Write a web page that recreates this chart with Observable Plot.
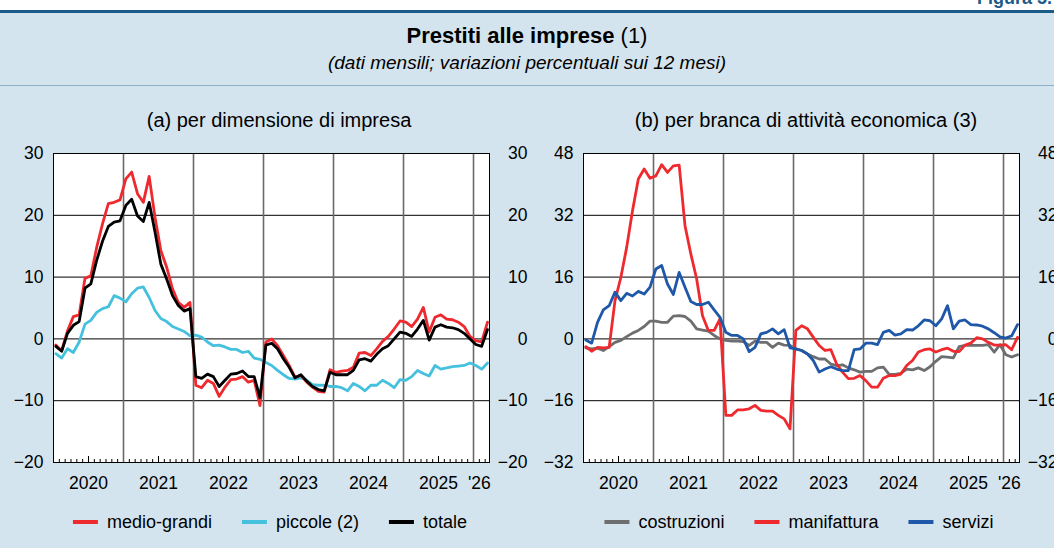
<!DOCTYPE html>
<html><head><meta charset="utf-8">
<script src="https://cdn.jsdelivr.net/npm/d3@7"></script>
<script src="https://cdn.jsdelivr.net/npm/@observablehq/plot@0.6"></script>
<style>
html,body{margin:0;padding:0;background:#fff;overflow:hidden;}
body{width:1054px;height:548px;position:relative;font-family:"Liberation Sans",Arial,Helvetica,sans-serif;color:#000;}
#fignum{position:absolute;right:2px;top:-11px;font-size:18px;line-height:18px;font-weight:bold;color:#1c5a87;}
#bg{position:absolute;left:0;top:10px;width:1054px;height:538px;background:#d4e4ee;border-top:3px solid #1c5a87;box-sizing:border-box;}
#title{position:absolute;left:0;width:1054px;top:23px;text-align:center;font-size:22px;line-height:26px;}
#subtitle{position:absolute;left:0;width:1054px;top:51px;text-align:center;font-size:19px;line-height:24px;font-style:italic;}
#sep{position:absolute;left:0;top:85px;width:1054px;height:1px;background:#8fb1c7;}
.ptitle{position:absolute;top:108px;font-size:20px;line-height:24px;text-align:center;width:600px;}
.plot{position:absolute;top:130px;width:549px;height:370px;}
.plot svg{max-width:none !important;}
.legend{position:absolute;top:511px;display:flex;gap:30px;font-size:18px;line-height:22px;transform:translateX(-50%);white-space:nowrap;}
.legend .it{display:flex;align-items:center;gap:9px;}
.legend .sw{width:25px;height:4px;}
</style></head><body>
<div id="fignum">Figura 5.</div>
<div id="bg"></div>
<div id="title"><b>Prestiti alle imprese</b> (1)</div>
<div id="subtitle">(dati mensili; variazioni percentuali sui 12 mesi)</div>
<div id="sep"></div>
<div class="ptitle" id="ta" style="left:-21px">(a) per dimensione di impresa</div>
<div class="ptitle" id="tb" style="left:506px">(b) per branca di attività economica (3)</div>
<div class="plot" id="pa" style="left:0px"></div>
<div class="plot" id="pb" style="left:530px"></div>
<div class="legend" id="la" style="left:270px"></div>
<div class="legend" id="lb" style="left:799px"></div>
<script>
// monthly observations, Jan 2020 .. Mar 2026
const startYear = 2020;
const yearLabels = ["2020","2021","2022","2023","2024","2025","'26"];

const medioGrandi = [-1.0,-1.9,1.3,3.6,3.9,9.8,10.2,14.8,18.6,21.9,
 22.1,22.5,25.9,27.0,23.5,22.1,26.3,19.7,14.3,11.6,
 8.1,5.9,5.1,5.9,-7.5,-7.9,-6.7,-7.2,-9.3,-7.8,
 -6.6,-6.5,-6.1,-7.0,-6.7,-10.8,-0.5,0.0,-1.1,-2.7,
 -4.3,-6.2,-5.9,-7.0,-7.8,-8.5,-8.6,-5.0,-5.4,-5.2,
 -5.1,-4.6,-2.3,-2.2,-2.7,-1.6,-0.4,0.4,1.6,2.9,
 2.7,2.0,3.2,5.1,1.1,3.5,3.9,3.2,3.1,2.7,
 2.0,0.4,-0.3,-0.5,2.7];
const piccole = [-2.4,-3.1,-1.6,-2.2,-0.5,2.4,3.0,4.3,4.9,5.2,
 7.0,6.6,6.0,7.3,8.2,8.4,6.7,4.6,3.3,2.8,
 2.0,1.6,1.2,0.5,0.6,0.3,-0.5,-1.1,-1.0,-1.3,
 -1.7,-1.7,-2.2,-2.0,-3.1,-3.3,-3.8,-4.3,-5.1,-5.8,
 -6.4,-6.5,-6.3,-6.7,-7.4,-7.5,-7.5,-7.7,-7.7,-7.9,
 -8.4,-7.2,-7.7,-8.4,-7.5,-7.5,-6.7,-7.2,-7.9,-6.6,
 -6.7,-6.1,-5.1,-5.6,-6.0,-4.3,-4.9,-4.7,-4.5,-4.4,
 -4.3,-3.9,-4.3,-4.9,-3.9];
const totale = [-1.2,-2.0,0.9,2.2,2.8,8.2,8.9,12.7,15.8,18.2,
 18.9,19.1,21.6,22.6,19.9,19.0,22.1,17.3,12.1,9.7,
 7.0,5.4,4.5,4.9,-6.1,-6.4,-5.7,-6.1,-7.7,-6.7,
 -5.7,-5.6,-5.2,-6.1,-6.1,-9.5,-1.0,-0.7,-1.6,-3.2,
 -4.6,-6.3,-5.8,-6.8,-7.7,-8.2,-8.4,-5.4,-5.8,-5.8,
 -5.8,-5.1,-3.4,-3.2,-3.6,-2.5,-1.6,-1.1,0.0,1.1,
 0.9,0.4,1.6,3.0,-0.2,1.9,2.3,1.9,1.8,1.5,
 0.9,0.0,-0.9,-1.2,1.5];

const costruzioni = [-2.3,-2.6,-2.4,-3.0,-2.0,-0.9,-0.4,0.6,1.5,2.2,
 3.2,4.6,4.6,4.3,4.3,5.9,6.0,5.8,4.6,2.6,
 2.3,2.0,0.9,0.0,-0.4,-0.6,-0.6,-0.7,-1.7,-0.6,
 -0.9,-0.9,-2.2,-1.1,-1.6,-1.7,-2.6,-3.0,-3.9,-4.6,
 -5.2,-5.2,-6.5,-6.9,-6.7,-7.5,-8.0,-8.6,-8.4,-8.4,
 -7.5,-7.3,-9.2,-9.2,-8.9,-7.8,-8.0,-7.5,-8.2,-7.2,
 -5.8,-4.6,-4.7,-4.9,-2.0,-1.7,-1.7,-1.7,-1.7,-1.5,
 -3.4,-1.5,-4.1,-4.7,-4.1];
const manifattura = [-2.0,-3.2,-2.2,-2.3,-2.2,9.9,15.9,23.7,33.2,41.4,
 44.0,41.6,42.2,45.1,43.1,44.8,45.0,29.3,22.0,15.5,
 6.0,2.2,2.2,5.2,-19.8,-19.8,-18.4,-18.4,-18.1,-17.2,
 -18.5,-18.7,-18.7,-19.8,-20.7,-23.3,2.2,3.4,2.6,0.4,
 -1.7,-3.0,-2.8,-6.5,-8.6,-10.3,-10.2,-9.5,-10.8,-12.5,
 -12.5,-10.2,-9.5,-9.5,-9.1,-6.9,-5.6,-3.4,-2.8,-2.6,
 -3.4,-2.8,-2.4,-3.2,-3.3,-1.6,-1.1,0.3,0.0,-0.9,
 -1.6,-1.6,-1.5,-2.8,0.4];
const servizi = [-0.3,-1.1,4.3,7.5,8.6,12.1,9.9,11.8,11.1,12.3,
 11.6,13.4,18.1,19.0,14.2,11.5,17.2,13.4,9.7,8.9,
 8.9,9.5,7.5,5.6,1.7,0.9,0.9,0.0,-3.3,-2.2,
 1.3,1.7,2.6,1.3,2.4,-2.3,-2.6,-3.0,-3.9,-5.6,
 -8.6,-7.8,-7.2,-7.8,-8.2,-8.2,-2.8,-2.6,-1.1,-1.1,
 -1.5,1.7,2.2,1.0,1.3,2.4,2.3,3.4,4.9,4.7,
 3.4,5.2,8.6,2.6,4.6,4.9,3.7,3.6,3.3,2.6,
 1.6,0.5,0.2,0.8,3.7];

const yTicksA = [-20,-10,0,10,20,30];
const yTicksB = [-32,-16,0,16,32,48];

const seriesA = [
  {name:"piccole (2)", values:piccole, color:"#45c1de"},
  {name:"medio-grandi", values:medioGrandi, color:"#ee2a2f"},
  {name:"totale", values:totale, color:"#000000"}
];
const seriesB = [
  {name:"costruzioni", values:costruzioni, color:"#6d6e70"},
  {name:"manifattura", values:manifattura, color:"#ee2a2f"},
  {name:"servizi", values:servizi, color:"#1f58a8"}
];
const legendOrderA = ["medio-grandi","piccole (2)","totale"];
const legendOrderB = ["costruzioni","manifattura","servizi"];

const xEnd = startYear + 74.74/12;
const tx = i => startYear + (i + 0.4)/12;
const nYears = yearLabels.length;
const yearBounds = d3.range(1, nYears).map(k => startYear + k);
const monthTicks = d3.range(1, 75).filter(k => k % 12 !== 0 && k % 12 !== 6).map(k => startYear + k/12);
const midTicks = d3.range(0, nYears - 1).map(k => startYear + k + 0.5);
const labelPos = yearLabels.map((l, k) => k < nYears - 1 ? startYear + k + 0.5 : (startYear + k + xEnd) / 2 - 0.03);
const labelData = yearLabels.map((l, k) => ({x: labelPos[k], label: l}));

function panel(series, yTicks) {
  const y0 = yTicks[0], y1 = yTicks[yTicks.length - 1];
  return Plot.plot({
    width: 549, height: 370,
    marginTop: 23, marginBottom: 38, marginLeft: 53, marginRight: 60,
    x: {domain: [startYear, xEnd], axis: null},
    y: {domain: [y0, y1], axis: null},
    style: {background: "transparent", fontFamily: '"Liberation Sans", Arial, sans-serif', fontSize: "17.5px", color: "#000", overflow: "visible", maxWidth: "none"},
    marks: [
      Plot.frame({fill: "#fff", stroke: null}),
      Plot.ruleY(yTicks.slice(1, -1), {stroke: "#000", strokeWidth: 1}),
      Plot.ruleX(yearBounds, {stroke: "#6a6a6a", strokeWidth: 1.6}),
      Plot.ruleX(monthTicks, {y1: y0, y2: y0, insetTop: -3, stroke: "#000", strokeWidth: 1}),
      Plot.ruleX(midTicks, {y1: y0, y2: y0, insetTop: -6, stroke: "#000", strokeWidth: 1}),
      ...series.map(s => Plot.line(s.values, {x: (d, i) => tx(i), y: d => d, stroke: s.color, strokeWidth: 2.8, strokeLinejoin: "round"})),
      Plot.frame({stroke: "#000", strokeWidth: 1}),
      Plot.axisY(yTicks, {anchor: "left", tickSize: 0, tickPadding: 10}),
      Plot.axisY(yTicks, {anchor: "right", tickSize: 0, tickPadding: 38, textAnchor: "end"}),
      Plot.text(labelData, {x: "x", text: "label", frameAnchor: "bottom", lineAnchor: "middle", dy: 21})
    ]
  });
}

document.getElementById("pa").appendChild(panel(seriesA, yTicksA));
document.getElementById("pb").appendChild(panel(seriesB, yTicksB));

function legend(el, series, order) {
  for (const n of order) {
    const s = series.find(d => d.name === n);
    const it = document.createElement("div"); it.className = "it";
    const sw = document.createElement("div"); sw.className = "sw"; sw.style.background = s.color;
    const tx = document.createElement("span"); tx.textContent = s.name;
    it.appendChild(sw); it.appendChild(tx); el.appendChild(it);
  }
}
legend(document.getElementById("la"), seriesA, legendOrderA);
legend(document.getElementById("lb"), seriesB, legendOrderB);
</script>
</body></html>
